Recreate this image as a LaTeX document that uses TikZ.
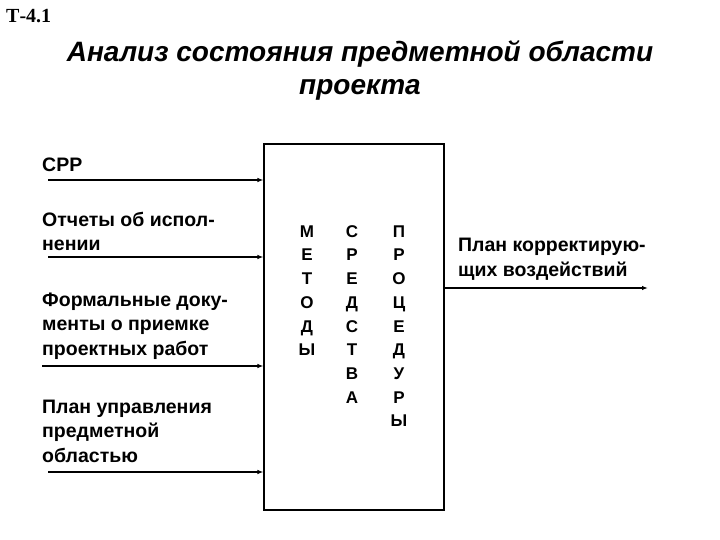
\documentclass[tikz,border=0pt]{standalone}
\usepackage{fontspec}
\setmainfont{Liberation Sans}
\newfontfamily\serifnum{Liberation Serif}
\usetikzlibrary{arrows.meta,calc}

\begin{document}
\begin{tikzpicture}[x=1pt,y=-1pt]
	\tikzstyle{flow}=[line width=1.6pt, -{Latex[length=6pt,width=4.5pt]}]
	\tikzstyle{lbl}=[inner sep=0pt, anchor=base west, align=left, font=\bfseries\fontsize{19.5}{24.5}\selectfont]
	\tikzstyle{letter}=[inner sep=0pt, anchor=base, font=\bfseries\fontsize{17}{24}\selectfont]
	\useasboundingbox (0,0) rectangle (720,540);
	\node[inner sep=0pt, anchor=base west, font=\serifnum\bfseries\fontsize{20}{22}\selectfont] (code) at (6,23) {Т-4.1};
	\node[inner sep=0pt, anchor=base, align=center, font=\bfseries\itshape\fontsize{28}{33}\selectfont] (title) at (360,95) {Анализ состояния предметной области\\проекта};
	% main box
	\node[draw, line width=1.1pt, minimum width=180pt, minimum height=366pt, inner sep=0pt] (box) at (354,327) {};
	% columns of letters
	\foreach \ch [count=\i] in {М,Е,Т,О,Д,Ы}
		\node[letter] (met\i) at (307,{213.5+23.7*\i}) {\ch};
	\foreach \ch [count=\i] in {С,Р,Е,Д,С,Т,В,А}
		\node[letter] (sre\i) at (352,{213.5+23.7*\i}) {\ch};
	\foreach \ch [count=\i] in {П,Р,О,Ц,Е,Д,У,Р,Ы}
		\node[letter] (pro\i) at (399,{213.5+23.7*\i}) {\ch};
	% inputs
	\coordinate (in1) at (48,180);
	\coordinate (in2) at (48,257);
	\coordinate (in3) at (42,366);
	\coordinate (in4) at (48,472);
	\draw[flow] (in1) -- (in1 -| box.west);
	\draw[flow] (in2) -- (in2 -| box.west);
	\draw[flow] (in3) -- (in3 -| box.west);
	\draw[flow] (in4) -- (in4 -| box.west);
	\node[lbl] (srp) at (42,172) {СРР};
	\node[lbl] (otch) at (42,251) {Отчеты об испол-\\нении};
	\node[lbl] (form) at (42,355) {Формальные доку-\\менты о приемке\\проектных работ};
	\node[lbl] (plan) at (42,462) {План управления\\предметной\\областью};
	% output
	\coordinate (out) at (648,288);
	\draw[flow] (out -| box.east) -- (out);
	\node[lbl] (korr) at (458,276) {План корректирую-\\щих воздействий};
\end{tikzpicture}
\end{document}
